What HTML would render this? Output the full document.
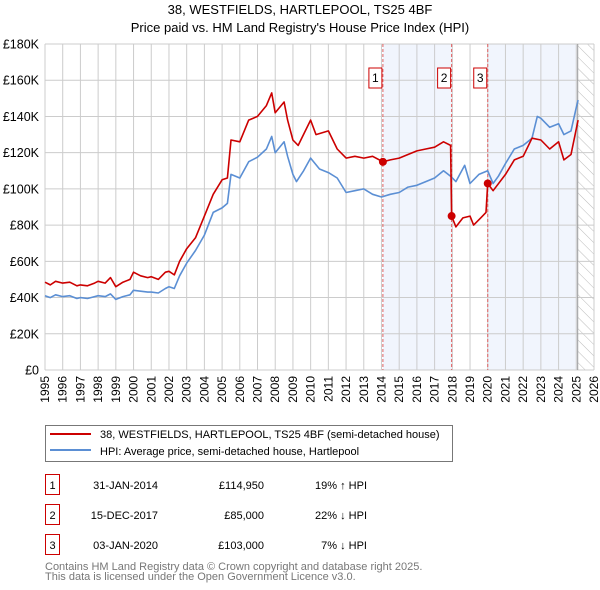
<!DOCTYPE html>
<html><head><meta charset="utf-8"><style>
body{margin:0;background:#fff;font-family:"Liberation Sans","DejaVu Sans",sans-serif;}
#wrap{position:relative;width:600px;height:590px;overflow:hidden;}
svg{position:absolute;left:0;top:0;}
</style></head><body>
<div id="wrap">
<svg id="chart" width="600" height="590"></svg>
</div>
<script>
const hpiYears=[1995,1995.3,1995.6,1996,1996.4,1996.8,1997,1997.4,1997.8,1998,1998.4,1998.7,1999,1999.4,1999.8,2000,2000.4,2000.8,2001,2001.4,2001.8,2002,2002.3,2002.6,2003,2003.5,2004,2004.5,2005,2005.3,2005.5,2006,2006.5,2007,2007.5,2007.8,2008,2008.5,2008.7,2009,2009.2,2009.6,2010,2010.5,2011,2011.5,2012,2012.5,2013,2013.5,2014,2014.5,2015,2015.5,2016,2016.5,2017,2017.5,2017.9,2018.2,2018.7,2019,2019.5,2020,2020.3,2020.6,2021,2021.5,2022,2022.5,2022.8,2023,2023.5,2024,2024.3,2024.7,2025,2025.1];
const hpiValues=[41,40,41.5,40.5,41,39.5,40,39.5,40.5,41,40.5,42,39,40.5,41.5,44,43.5,43,43,42.5,45,46,45,52,59,66,74.5,87,89.5,92,108,106,115,117.5,122,129,120,126,118,108,104,110,117,111,109,106,98,99,100,97,95.5,97,98,101,102,104,106,110,107,104,113,103,108,110,103,107,114,122,124,128,140,139,134,136,130,132,145,149];
const priceYears=[1995,1995.3,1995.6,1996,1996.4,1996.8,1997,1997.4,1997.8,1998,1998.4,1998.7,1999,1999.4,1999.8,2000,2000.4,2000.8,2001,2001.4,2001.8,2002,2002.3,2002.6,2003,2003.5,2004,2004.5,2005,2005.3,2005.5,2006,2006.5,2007,2007.5,2007.8,2008,2008.5,2008.7,2009,2009.3,2010,2010.3,2011,2011.5,2012,2012.5,2013,2013.5,2014.08,2014.5,2015,2015.5,2016,2016.5,2017,2017.5,2017.9,2017.96,2018.2,2018.6,2019,2019.2,2019.6,2019.9,2020.0,2020.3,2021,2021.5,2022,2022.5,2023,2023.5,2024,2024.3,2024.7,2025.1];
const priceValues=[48.5,47,49,48,48.5,46.5,47,46.5,48,49,48,51,46,48.5,50,54,52,51,51.5,50,54,54.5,52.5,60,67,73,85,97,105,106,127,126,138,140,146,153,142,148,138,127,124,138,130,132,122,117,118,117,118,114.95,116,117,119,121,122,123,126,124,85,79,84,85,80,84,87,103,99,108,116,118,128,127,122,126,116,119,138];
const sales=[{n:"1",year:2014.08,value:114.95},{n:"2",year:2017.96,value:85},{n:"3",year:2020.0,value:103}];
const yTicks=[0,20,40,60,80,100,120,140,160,180];
const yLabels=["£0","£20K","£40K","£60K","£80K","£100K","£120K","£140K","£160K","£180K"];
const xTicks=[];for(let y=1995;y<=2026;y++)xTicks.push(y);

const NS="http://www.w3.org/2000/svg";
const svg=document.getElementById('chart');
const L=45,R=594,T=44,B=370;
const xs=y=>L+(y-1995)/(2026-1995)*(R-L);
const ys=v=>B-v/180*(B-T);
function el(tag,attrs,parent){const e=document.createElementNS(NS,tag);for(const k in attrs)e.setAttribute(k,attrs[k]);(parent||svg).appendChild(e);return e;}
function txt(s,attrs){const e=el('text',attrs);e.textContent=s;return e;}

let t=txt("38, WESTFIELDS, HARTLEPOOL, TS25 4BF",{x:300,y:14,'text-anchor':'middle','font-size':13,fill:'#000'});


t=txt("Price paid vs. HM Land Registry's House Price Index (HPI)",{x:300,y:32,'text-anchor':'middle','font-size':13,fill:'#000'});



// shaded ranges
let s=el('rect',{x:xs(sales[0].year),y:T,width:xs(sales[1].year)-xs(sales[0].year),height:B-T,fill:'#eef3fc',opacity:0.8});


s=el('rect',{x:xs(sales[2].year),y:T,width:xs(2025.08)-xs(sales[2].year),height:B-T,fill:'#eef3fc',opacity:0.8});


// hatch
const defs=el('defs',{});
const pat=el('pattern',{id:'hatch',width:8,height:8,patternUnits:'userSpaceOnUse',patternTransform:'rotate(-45)'},defs);
el('line',{x1:0,y1:0,x2:0,y2:8,stroke:'#bbb','stroke-width':1},pat);
s=el('rect',{x:xs(2025.08),y:T,width:R-xs(2025.08),height:B-T,fill:'url(#hatch)'});



// grid
xTicks.forEach(y=>{const g=el('line',{x1:xs(y),x2:xs(y),y1:T,y2:B,stroke:'#ccc','stroke-width':1});


const lb=txt(String(y),{x:0,y:0,'font-size':12,fill:'#000','text-anchor':'end',transform:`translate(${xs(y)+4},${B+6}) rotate(-90)`});

});
yTicks.forEach((v,i)=>{const g=el('line',{x1:L,x2:R,y1:ys(v),y2:ys(v),stroke:'#ccc','stroke-width':1});


const lb=txt(yLabels[i],{x:39,y:ys(v)+4.5,'font-size':12.5,fill:'#000','text-anchor':'end'});

});
let ln=el('line',{x1:xs(2025.08),x2:xs(2025.08),y1:T,y2:B,stroke:'#999','stroke-width':1});



// sale dashed lines
sales.forEach(sa=>{const d=el('line',{x1:xs(sa.year),x2:xs(sa.year),y1:T,y2:B,stroke:'#e06060','stroke-width':1,'stroke-dasharray':'3,2'});

});

function path(xa,va,color,name){let d='';xa.forEach((x,i)=>{d+=(i?'L':'M')+xs(x).toFixed(1)+','+ys(va[i]).toFixed(1);});
const p=el('path',{d:d,fill:'none',stroke:color,'stroke-width':1.6,'stroke-linejoin':'round'});

}
path(hpiYears,hpiValues,'#5b8fd4','hpi-line');
path(priceYears,priceValues,'#cc0000','price-paid-line');

sales.forEach(sa=>{const c=el('circle',{cx:xs(sa.year),cy:ys(sa.value),r:4,fill:'#cc0000'});


const bx=xs(sa.year)-10;
const r=el('rect',{x:bx-4,y:68,width:13,height:20,fill:'#fff',stroke:'#cc0000','stroke-width':1});


const tt=txt(sa.n,{x:bx+2.5,y:82,'font-size':12,'text-anchor':'middle',fill:'#000'});

});

// legend
let g=el('rect',{x:45.5,y:425.5,width:407,height:36,fill:'#fff',stroke:'#777','stroke-width':1});


el('line',{x1:50,x2:91,y1:434,y2:434,stroke:'#cc0000','stroke-width':2});
el('line',{x1:50,x2:91,y1:450,y2:450,stroke:'#5b8fd4','stroke-width':2});
t=txt("38, WESTFIELDS, HARTLEPOOL, TS25 4BF (semi-detached house)",{x:100,y:438,'font-size':11,fill:'#000'});


t=txt("HPI: Average price, semi-detached house, Hartlepool",{x:100,y:455,'font-size':11,fill:'#000'});



const rows=[["1","31-JAN-2014","£114,950","19% ↑ HPI"],["2","15-DEC-2017","£85,000","22% ↓ HPI"],["3","03-JAN-2020","£103,000","7% ↓ HPI"]];
rows.forEach((r,i)=>{const y=483+i*30;
const b=el('rect',{x:45.5,y:y-8.5,width:14,height:20,fill:'#fff',stroke:'#cc0000','stroke-width':1});


txt(r[0],{x:52.5,y:y+6,'font-size':11,'text-anchor':'middle'});
let c=txt(r[1],{x:158,y:y+6,'font-size':11,'text-anchor':'end'});


c=txt(r[2],{x:264,y:y+6,'font-size':11,'text-anchor':'end'});


c=txt(r[3],{x:367,y:y+6,'font-size':11,'text-anchor':'end'});

});
t=txt("Contains HM Land Registry data © Crown copyright and database right 2025.",{x:45,y:570,'font-size':11,fill:'#777'});


t=txt("This data is licensed under the Open Government Licence v3.0.",{x:45,y:580,'font-size':11,fill:'#777'});


</script>
</body></html>
